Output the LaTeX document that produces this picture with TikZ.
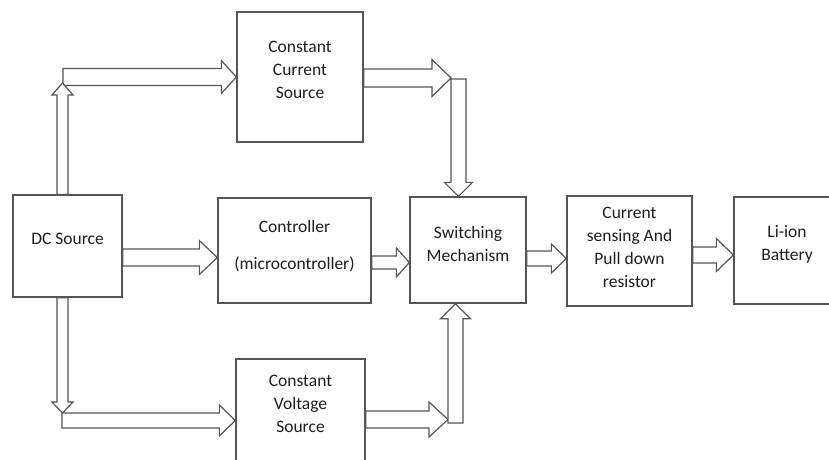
\documentclass[tikz,border=0pt]{standalone}
\usepackage{fontspec}
\setmainfont{Carlito}
\usetikzlibrary{calc}

\definecolor{linegray}{RGB}{85,85,85}
\definecolor{textgray}{RGB}{30,30,30}

\tikzset{
  box/.style={draw=linegray, line width=1.3pt, fill=white, inner sep=0pt},
  txt/.style={align=center, inner sep=0pt, text=textgray,
              font=\fontsize{17.5}{23}\selectfont},
  hollow/.style={draw=linegray, line width=1.2pt, fill=white, line join=miter},
}

% Hollow block arrow: #1 start, #2 tip, #3 shaft half-width,
% #4 head half-width, #5 head length
\newcommand\hollowarrow[5]{%
  \coordinate (ha-base) at ($(#2)!#5!(#1)$);
  \draw[hollow] ($(#1)!#3!90:(#2)$) -- ($(ha-base)!#3!90:(#2)$)
    -- ($(ha-base)!#4!90:(#2)$) -- (#2) -- ($(ha-base)!#4!-90:(#2)$)
    -- ($(ha-base)!#3!-90:(#2)$) -- ($(#1)!#3!-90:(#2)$) -- cycle;
}

\begin{document}
\begin{tikzpicture}[x=1pt, y=-1pt]
  \fill[white] (0,0) rectangle (829,459);
  \useasboundingbox (0,0) rectangle (829,459);

  % blocks
  \node[box, minimum width=109pt, minimum height=102pt,
        label={[txt, yshift=7pt]center:DC Source}] (dc) at (67.5,246) {};
  \node[box, minimum width=126pt, minimum height=130pt,
        label={[txt, yshift=7pt]center:{Constant\\Current\\Source}}] (ccs) at (300,77) {};
  \node[box, minimum width=153pt, minimum height=105pt,
        label={[txt, yshift=4pt]center:{Controller\\[14pt](microcontroller)}}] (ctrl) at (294.5,250.5) {};
  \node[box, minimum width=116pt, minimum height=106pt,
        label={[txt, yshift=6pt]center:{Switching\\Mechanism}}] (sw) at (468,250) {};
  \node[box, minimum width=125pt, minimum height=110pt,
        label={[txt, yshift=4pt]center:{Current\\sensing And\\Pull down\\resistor}}] (cs) at (629.5,251) {};
  \node[box, minimum width=106pt, minimum height=107pt,
        label={[txt, yshift=6pt]center:{Li-ion\\Battery}}] (li) at (787,250.5) {};
  \node[box, minimum width=129pt, minimum height=116pt,
        label={[txt, yshift=13pt]center:{Constant\\Voltage\\Source}}] (cvs) at (300.5,417) {};

  % bends of the split supply lines
  \coordinate (jt)  at (62.5,83);
  \coordinate (jtl) at (63,77);
  \coordinate (jr)  at (451,78);
  \coordinate (jrd) at (458.5,79);
  \coordinate (jb)  at (62.5,413);
  \coordinate (jbl) at (62,420.5);
  \coordinate (jbr) at (448,419.5);
  \coordinate (jbu) at (455.5,423);

  % DC source -> constant current source
  \hollowarrow{jtl}{ccs.west}{8.5pt}{16.5pt}{15pt}
  \hollowarrow{$(dc.north)+(-5,0)$}{jt}{5.5pt}{10.5pt}{12pt}

  % DC source -> constant voltage source
  \hollowarrow{jbl}{$(cvs.west)+(0,3.5)$}{7.5pt}{15.5pt}{16pt}
  \hollowarrow{$(dc.south)+(-5,0)$}{jb}{5.5pt}{10.5pt}{11pt}

  % constant current source -> switching
  \hollowarrow{$(ccs.east)+(0,1)$}{jr}{9pt}{18.5pt}{19pt}
  \hollowarrow{jrd}{$(sw.north)+(-9.5,0)$}{7.5pt}{14pt}{14pt}

  % constant voltage source -> switching
  \hollowarrow{$(cvs.east)+(0,2.5)$}{jbr}{8.5pt}{17.5pt}{19pt}
  \hollowarrow{jbu}{$(sw.south)+(-12.5,0)$}{7.5pt}{15pt}{15pt}

  % main chain
  \hollowarrow{$(dc.east)+(0,11.5)$}{$(ctrl.west)+(0,7)$}{8.5pt}{17pt}{18pt}
  \hollowarrow{$(ctrl.east)+(0,12)$}{$(sw.west)+(0,12.5)$}{6.5pt}{14.5pt}{13pt}
  \hollowarrow{$(sw.east)+(0,8.5)$}{$(cs.west)+(0,7.5)$}{7.5pt}{14.5pt}{15pt}
  \hollowarrow{$(cs.east)+(0,4)$}{$(li.west)+(0,4.5)$}{8pt}{16.5pt}{17pt}
\end{tikzpicture}
\end{document}
